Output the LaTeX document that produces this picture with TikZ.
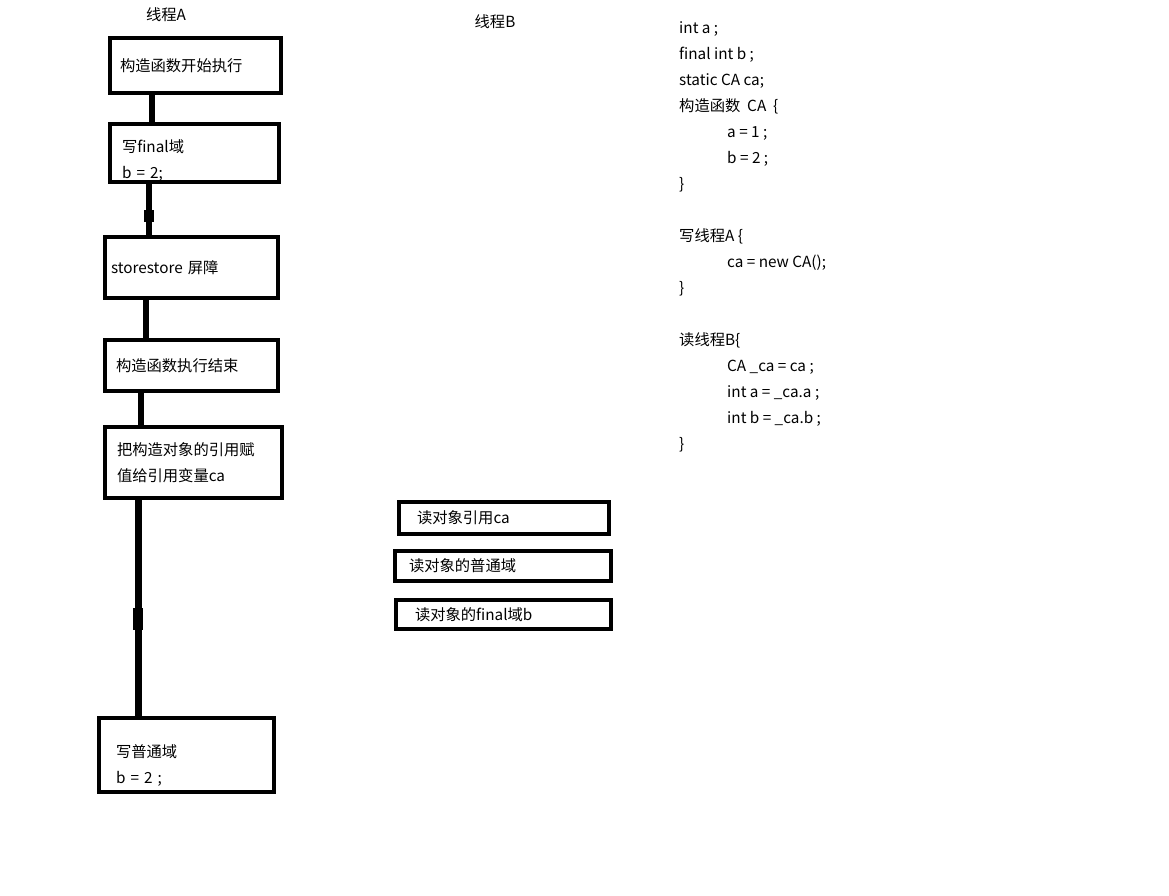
\documentclass[tikz,border=0pt]{standalone}
\usepackage{fontspec}
\setmainfont{Noto Sans CJK SC}
\usetikzlibrary{positioning,calc}

\begin{document}
\begin{tikzpicture}[
    x=1pt, y=-1pt,
    stagebox/.style={draw=black, line width=4.5pt, inner sep=0pt, align=left, font=\fontsize{15.3pt}{26pt}\selectfont},
    readbox/.style={stagebox},
    link/.style={line width=6pt, draw=black},
    knot/.style={line width=9.5pt, draw=black},
    codeline/.style={inner sep=0pt, anchor=base west, font=\fontsize{15.3pt}{26pt}\selectfont},
    threadlabel/.style={inner sep=0pt, font=\fontsize{15.3pt}{26pt}\selectfont}
]
    \useasboundingbox (0,0) rectangle (1169,895);

    % --- Thread labels ---
    \node[threadlabel] (tA) at (166,15) {线程A};
    \node[threadlabel] (tB) at (495,22) {线程B};

    % --- Left: writer thread A ---
    \node[stagebox, minimum width=171, minimum height=55, text width=151] (a1) at (195.5,65.5) {构造函数开始执行};
    \node[stagebox, minimum width=169, minimum height=58, text width=145] (a2) at (194.5,153) {\rule{0pt}{27pt}写final域\\b = 2;};
    \node[stagebox, minimum width=173, minimum height=61, text width=161] (a3) at (191.5,267.5) {storestore 屏障};
    \node[stagebox, minimum width=173, minimum height=51, text width=151] (a4) at (191.5,365.5) {构造函数执行结束};
    \node[stagebox, minimum width=177, minimum height=71, text width=153] (a5) at (193.5,462.5) {把构造对象的引用赋\\值给引用变量ca};
    \node[stagebox, minimum width=175, minimum height=74, text width=141] (a6) at (186.5,755) {\rule{0pt}{33pt}写普通域\\b = 2 ;};

    % Links
    \draw[link] ([xshift=-43.5]a1.south) -- ([xshift=-43.5]a1.south |- a2.north);
    \draw[link] ([xshift=-45.5]a2.south) -- ([xshift=-45.5]a2.south |- a3.north);
    \draw[knot] ([xshift=-45.5, yshift=-26]a2.south) -- ++(0,12);
    \draw[link] ([xshift=-45.5]a3.south) -- ([xshift=-45.5]a3.south |- a4.north);
    \draw[link, line width=5.5pt] ([xshift=-50.5]a4.south) -- ([xshift=-50.5]a4.south |- a5.north);
    \draw[link, line width=7pt] ([xshift=-55.5]a5.south) -- ([xshift=-55.5]a5.south |- a6.north);
    \draw[knot, line width=10pt] ([xshift=-55.5, yshift=-108]a5.south) -- ++(0,22);

    % --- Middle: reader thread B ---
    \node[readbox, minimum width=210, minimum height=32, text width=174] (b1) at (504,518) {读对象引用ca};
    \node[readbox, minimum width=216, minimum height=30, text width=188] (b2) at (503,566) {读对象的普通域};
    \node[readbox, minimum width=215, minimum height=29, text width=177] (b3) at (503.5,614.5) {读对象的final域b};

    % --- Right: code listing ---
    \foreach \k/\ind/\txt in {0/0/{int a ;}, 1/0/{final int b ;}, 2/0/{static CA ca;},
        3/0/{构造函数\ \ CA\ \ \{}, 4/1/{a = 1 ;}, 5/1/{b = 2 ;}, 6/0/{\}},
        8/0/{写线程A \{}, 9/1/{ca = new CA();}, 10/0/{\}},
        12/0/{读线程B\{}, 13/1/{CA \_ca = ca ;}, 14/1/{int a = \_ca.a ;}, 15/1/{int b = \_ca.b ;}, 16/0/{\}}} {
        \node[codeline] (code\k) at ({679+48*\ind},{33.5+26*\k}) {\txt};
    }

\end{tikzpicture}
\end{document}
